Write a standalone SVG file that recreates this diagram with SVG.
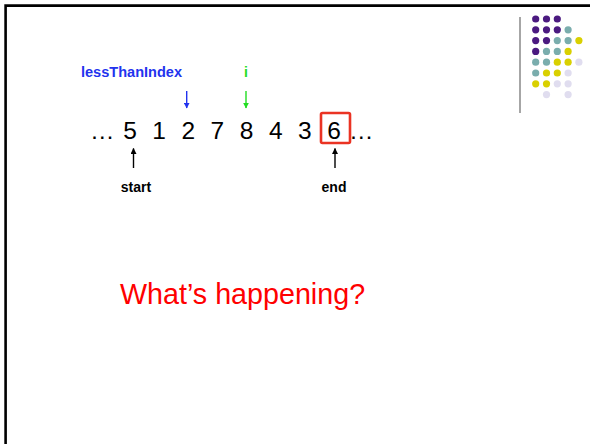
<svg xmlns="http://www.w3.org/2000/svg" width="590" height="444" viewBox="0 0 590 444">
<style>
  .lbl { font-family: "Liberation Sans", Arial, sans-serif; font-weight: bold; font-size: 14px; }
  .num { font-family: "Liberation Sans", Arial, sans-serif; font-size: 24.5px; fill: #000; }
  .p { fill: #4b1a80; } .t { fill: #7aadad; } .y { fill: #d9d000; } .l { fill: #e0ddef; }
</style>
<defs>
  <marker id="ahB" viewBox="0 0 10 10" refX="9" refY="5" markerWidth="6" markerHeight="6" markerUnits="userSpaceOnUse" orient="auto"><path d="M0,0 L10,5 L0,10 z" fill="#000"/></marker>
  <marker id="ahBl" viewBox="0 0 10 10" refX="9" refY="5" markerWidth="6" markerHeight="6" markerUnits="userSpaceOnUse" orient="auto"><path d="M0,0 L10,5 L0,10 z" fill="#2233ee"/></marker>
  <marker id="ahG" viewBox="0 0 10 10" refX="9" refY="5" markerWidth="6" markerHeight="6" markerUnits="userSpaceOnUse" orient="auto"><path d="M0,0 L10,5 L0,10 z" fill="#22dd22"/></marker>
</defs>
<rect width="590" height="444" fill="#fff"/>
<polyline points="5.6,444 5.6,5.6 590,5.6" fill="none" stroke="#000" stroke-width="2.6"/>
<g id="decor">
  <line x1="520" y1="17" x2="520" y2="113" stroke="#888" stroke-width="1.5"/>
  <g>
    <circle class="p" cx="535.7" cy="19" r="3.6"/><circle class="p" cx="546.5" cy="19" r="3.6"/><circle class="p" cx="557.3" cy="19" r="3.6"/>
    <circle class="p" cx="535.7" cy="29.8" r="3.6"/><circle class="p" cx="546.5" cy="29.8" r="3.6"/><circle class="p" cx="557.3" cy="29.8" r="3.6"/><circle class="t" cx="568.1" cy="29.8" r="3.6"/>
    <circle class="p" cx="535.7" cy="40.6" r="3.6"/><circle class="p" cx="546.5" cy="40.6" r="3.6"/><circle class="t" cx="557.3" cy="40.6" r="3.6"/><circle class="t" cx="568.1" cy="40.6" r="3.6"/><circle class="y" cx="578.9" cy="40.6" r="3.6"/>
    <circle class="p" cx="535.7" cy="51.4" r="3.6"/><circle class="t" cx="546.5" cy="51.4" r="3.6"/><circle class="t" cx="557.3" cy="51.4" r="3.6"/><circle class="y" cx="568.1" cy="51.4" r="3.6"/>
    <circle class="t" cx="535.7" cy="62.2" r="3.6"/><circle class="t" cx="546.5" cy="62.2" r="3.6"/><circle class="y" cx="557.3" cy="62.2" r="3.6"/><circle class="y" cx="568.1" cy="62.2" r="3.6"/><circle class="l" cx="578.9" cy="62.2" r="3.6"/>
    <circle class="t" cx="535.7" cy="73" r="3.6"/><circle class="y" cx="546.5" cy="73" r="3.6"/><circle class="y" cx="557.3" cy="73" r="3.6"/><circle class="l" cx="568.1" cy="73" r="3.6"/>
    <circle class="y" cx="535.7" cy="83.8" r="3.6"/><circle class="y" cx="546.5" cy="83.8" r="3.6"/><circle class="l" cx="557.3" cy="83.8" r="3.6"/><circle class="l" cx="568.1" cy="83.8" r="3.6"/>
    <circle class="l" cx="546.5" cy="94.6" r="3.6"/><circle class="l" cx="568.1" cy="94.6" r="3.6"/>
  </g>
</g>
<g id="labels">
  <text class="lbl" x="81" y="77" fill="#2233ee" textLength="101" lengthAdjust="spacingAndGlyphs">lessThanIndex</text>
  <text class="lbl" x="246" y="77" fill="#22dd22" text-anchor="middle">i</text>
  <text class="lbl" x="136" y="192" fill="#000" text-anchor="middle">start</text>
  <text class="lbl" x="334" y="192" fill="#000" text-anchor="middle">end</text>
</g>
<g id="array">
  <text class="num" y="139"><tspan x="90">…</tspan></text>
  <text class="num" y="139" text-anchor="middle"><tspan x="130">5</tspan><tspan x="159.1">1</tspan><tspan x="188.3">2</tspan><tspan x="217.4">7</tspan><tspan x="246.6">8</tspan><tspan x="275.7">4</tspan><tspan x="304.9">3</tspan><tspan x="334">6</tspan></text>
  <text class="num" y="139"><tspan x="349">…</tspan></text>
  <rect id="box6" x="321" y="113" width="29" height="30" rx="1.5" fill="none" stroke="#ea3323" stroke-width="2.6"/>
</g>
<g id="connectors">
  <line x1="186.7" y1="91" x2="186.7" y2="108" stroke="#2233ee" stroke-width="1.4" marker-end="url(#ahBl)"/>
  <line x1="246" y1="91" x2="246" y2="108" stroke="#22dd22" stroke-width="1.4" marker-end="url(#ahG)"/>
  <line x1="133.5" y1="168" x2="133.5" y2="148.5" stroke="#000" stroke-width="1.4" marker-end="url(#ahB)"/>
  <line x1="335" y1="168" x2="335" y2="148.5" stroke="#000" stroke-width="1.4" marker-end="url(#ahB)"/>
</g>
<g id="question">
  <text x="120" y="304" font-family="'Liberation Sans', Arial, sans-serif" font-size="28.7" fill="#ff0000">What’s happening?</text>
</g>
</svg>
